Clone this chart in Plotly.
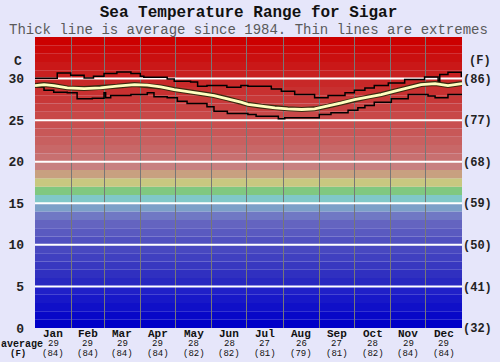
import plotly.graph_objects as go

# ---------------- data ----------------
months = ["Jan", "Feb", "Mar", "Apr", "May", "Jun", "Jul", "Aug", "Sep", "Oct", "Nov", "Dec"]
month_mid_day = [15.5, 45, 74.5, 105, 135.5, 166, 196.5, 227.5, 258, 288.5, 319, 349.5]
month_start_day = [31, 59, 90, 120, 151, 181, 212, 243, 273, 304, 334]
month_avg_c = [29, 29, 29, 29, 28, 28, 27, 26, 27, 28, 29, 29]
month_avg_f = [84, 84, 84, 84, 82, 82, 81, 79, 81, 82, 84, 84]

avg_day = [0, 7.7, 16, 27.6, 42, 56, 70, 85, 96, 107.5, 119, 130, 142, 153, 164, 176, 182,
           193.5, 205, 216, 228, 239, 250.5, 262, 273, 285, 296, 307.5, 319, 330, 342, 353, 365]
avg_temp = [29.16, 29.28, 29.16, 28.88, 28.8, 28.88, 29.08, 29.28, 29.2, 29.0, 28.68, 28.48, 28.2,
            27.96, 27.6, 27.16, 26.9, 26.68, 26.48, 26.36, 26.28, 26.36, 26.68, 27.08, 27.48, 27.8,
            28.08, 28.48, 28.88, 29.28, 29.4, 29.16, 29.4]

max_day = [0, 19, 30.5, 42, 50, 59, 70, 82, 90, 93, 113, 119, 133, 139, 147, 164, 176, 182, 202,
           210.6, 222, 239, 250.5, 265, 273, 282, 290, 302, 316, 333, 344.6, 346, 353, 364.5, 365]
max_temp = [30.05, 30.68, 30.4, 30.08, 30.28, 30.6, 30.8, 30.6, 30.28, 30.16, 29.96, 29.68, 29.6,
            29.08, 29.16, 28.96, 29.16, 29.08, 28.76, 28.48, 28.08, 27.68, 27.96, 28.28, 28.6, 28.88,
            29.16, 29.48, 29.88, 30.2, 29.68, 30.48, 30.76, 30.28, 30.28]

min_day = [0, 7.7, 16, 27.6, 36, 49, 59, 60.4, 64.7, 82, 96, 101.7, 113, 121.7, 130, 147, 153, 164.4,
           182, 189, 208, 213.5, 243, 253, 267.6, 276, 282, 290, 304.6, 319, 336, 342, 353, 365]
min_temp = [29.0, 28.6, 28.36, 28.28, 27.56, 27.64, 28.28, 27.68, 27.96, 28.08, 28.28, 27.8, 27.68,
            27.28, 27.0, 26.6, 26.08, 25.8, 25.68, 25.48, 25.16, 25.28, 25.68, 25.88, 26.2, 26.48,
            26.76, 27.16, 27.56, 28.08, 27.9, 27.68, 28.08, 28.08]

c_ticks = [0, 5, 10, 15, 20, 25, 30]
f_ticks = [32, 41, 50, 59, 68, 77, 86]

# colour of each 1-degree band, from 0-1 C up to 34-35 C
band_colors = ["#0000c8", "#0808c8", "#1010c8", "#1818c8", "#2020c8",
               "#2828c0", "#3030c0", "#3838c0", "#4040c0", "#4848c0",
               "#5050c0", "#5a5ac0", "#6464c0", "#7078c4", "#7ca0c8",
               "#80c8c8", "#80c880", "#c8c880", "#c8a080", "#c88080",
               "#c87070", "#c86868", "#c86060", "#c85858", "#c85050",
               "#c84848", "#c84040", "#c83838", "#c83030", "#c82828",
               "#c82020", "#ca1818", "#ca1010", "#cc0808", "#cc0000"]

# ---------------- figure ----------------
fig = go.Figure()

for i, col in enumerate(band_colors):
    fig.add_shape(type="rect", xref="x", yref="y", x0=0, x1=365, y0=i, y1=i + 1,
                  fillcolor=col, line_width=0, layer="below")

# white horizontal grid lines drawn beneath the data lines
gx, gy = [], []
for t in c_ticks[1:]:
    gx += [0, 365, None]
    gy += [t, t, None]
fig.add_trace(go.Scatter(x=gx, y=gy, mode="lines", line=dict(color="white", width=2),
                         hoverinfo="skip", showlegend=False))

fig.add_trace(go.Scatter(x=max_day, y=max_temp, mode="lines", line_shape="hv",
                         line=dict(color="black", width=1.5), hoverinfo="skip", showlegend=False))
fig.add_trace(go.Scatter(x=min_day, y=min_temp, mode="lines", line_shape="hv",
                         line=dict(color="black", width=1.5), hoverinfo="skip", showlegend=False))
fig.add_trace(go.Scatter(x=avg_day, y=avg_temp, mode="lines",
                         line=dict(color="#3a2a10", width=5), hoverinfo="skip", showlegend=False))
fig.add_trace(go.Scatter(x=avg_day, y=avg_temp, mode="lines",
                         line=dict(color="#ffffc0", width=2.8), hoverinfo="skip", showlegend=False))
# invisible trace to activate the Fahrenheit axis
fig.add_trace(go.Scatter(x=[0], y=[32], yaxis="y2", mode="markers",
                         marker=dict(opacity=0), hoverinfo="skip", showlegend=False))

mono = "Liberation Mono, Courier New, monospace"

fig.update_layout(
    width=500, height=362,
    margin=dict(l=35, r=38, t=37, b=34, autoexpand=False),
    paper_bgcolor="#e6e6fa",
    plot_bgcolor="#e6e6fa",
    hovermode=False,
    title=dict(text="Sea Temperature Range for Sigar", x=0.497, xanchor="center",
               y=1 - 11.5 / 362, yanchor="middle",
               font=dict(family=mono, size=16, color="#111111", weight="bold")),
    xaxis=dict(range=[0, 365], tickvals=month_start_day, showticklabels=False,
               showgrid=True, gridcolor="#777777", gridwidth=1, zeroline=False,
               showline=False, ticks=""),
    yaxis=dict(range=[0, 35], tickvals=c_ticks, ticktext=[str(v) for v in c_ticks],
               showgrid=False, zeroline=False, ticks="", ticklabelstandoff=10,
               tickfont=dict(family=mono, size=13, color="#222222", weight="bold")),
    yaxis2=dict(range=[32, 95], overlaying="y", side="right", tickvals=f_ticks,
                ticktext=["(%d)" % v for v in f_ticks], showgrid=False, zeroline=False,
                ticks="", tickfont=dict(family=mono, size=12, color="#222222", weight="bold")),
)

ann = []
ann.append(dict(text="Thick line is average since 1984. Thin lines are extremes",
                xref="paper", yref="paper", x=0.5, y=1, yshift=7.5, xanchor="center",
                yanchor="middle", showarrow=False, borderpad=0,
                font=dict(family=mono, size=14, color="#5a5a5a")))
ann.append(dict(text="<b>C</b>", xref="paper", yref="paper", x=-17 / 427, y=1, yshift=-24,
                xanchor="center", yanchor="middle", showarrow=False,
                font=dict(family=mono, size=13, color="#222222")))
ann.append(dict(text="<b>(F)</b>", xref="paper", yref="paper", x=1 + 18 / 427, y=1, yshift=-24,
                xanchor="center", yanchor="middle", showarrow=False,
                font=dict(family=mono, size=12, color="#222222")))
for m, d, c, f in zip(months, month_mid_day, month_avg_c, month_avg_f):
    ann.append(dict(text="<b>%s</b>" % m, x=d, xref="x", yref="paper", y=0, yshift=-5.5,
                    xanchor="center", yanchor="middle", showarrow=False, borderpad=0,
                    font=dict(family=mono, size=11, color="#111111")))
    ann.append(dict(text=str(c), x=d, xref="x", yref="paper", y=0, yshift=-16,
                    xanchor="center", yanchor="middle", showarrow=False, borderpad=0,
                    font=dict(family=mono, size=9, color="#111111")))
    ann.append(dict(text="(%d)" % f, x=d, xref="x", yref="paper", y=0, yshift=-26,
                    xanchor="center", yanchor="middle", showarrow=False, borderpad=0,
                    font=dict(family=mono, size=9, color="#111111")))
ann.append(dict(text="<b>average</b>", xref="paper", yref="paper", x=-13 / 427, y=0, yshift=-16,
                xanchor="center", yanchor="middle", showarrow=False, borderpad=0,
                font=dict(family=mono, size=10, color="#111111")))
ann.append(dict(text="<b>(F)</b>", xref="paper", yref="paper", x=-17 / 427, y=0, yshift=-26,
                xanchor="center", yanchor="middle", showarrow=False, borderpad=0,
                font=dict(family=mono, size=9, color="#111111")))
fig.update_layout(annotations=ann)

fig.write_html("out.html", config={"displayModeBar": False, "staticPlot": True},
               post_script="document.body.style.margin='0';document.body.style.padding='0';")
